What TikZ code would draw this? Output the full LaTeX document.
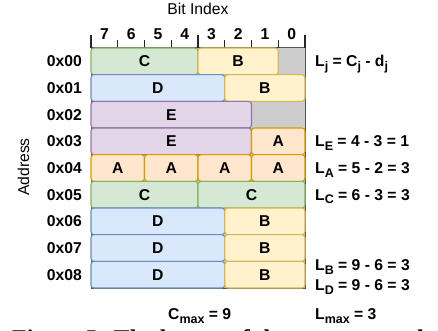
\documentclass[tikz,border=0pt]{standalone}
\usepackage{fontspec}
\setmainfont{Liberation Sans}
\newfontfamily\capfont{Liberation Serif}
\definecolor{gfill}{HTML}{D5E8D4}\definecolor{gline}{HTML}{82B366}
\definecolor{yfill}{HTML}{FFF2CC}\definecolor{yline}{HTML}{D6B656}
\definecolor{bfill}{HTML}{DAE8FC}\definecolor{bline}{HTML}{6C8EBF}
\definecolor{pfill}{HTML}{E1D5E7}\definecolor{pline}{HTML}{9673A6}
\definecolor{ofill}{HTML}{FFE6CC}\definecolor{oline}{HTML}{D79B00}
\definecolor{memfill}{HTML}{CCCCCC}\definecolor{memline}{HTML}{555555}
\newcommand\fsz{\fontsize{15.7}{18}\selectfont}
\newcommand\sbs[1]{\raisebox{-3.6pt}{\fontsize{12.5}{13}\selectfont #1}}
\newcommand\memblk[6]{%
  \pgfmathsetmacro\mw{(#4-#3)*26.75}%
  \node[blk,#2,minimum width=\mw pt] (#1) at ({91+26.75*(#3+#4)/2},{48+26.667*(#5+0.5)}) {#6};}
\tikzset{
  blk/.style={draw, line width=1.1pt, rounded corners=3pt, inner sep=0pt,
    minimum height=26.667pt, font=\bfseries\fsz},
  grn/.style={fill=gfill, draw=gline},
  yel/.style={fill=yfill, draw=yline},
  blu/.style={fill=bfill, draw=bline},
  pur/.style={fill=pfill, draw=pline},
  org/.style={fill=ofill, draw=oline},
  lbl/.style={font=\bfseries\fsz, inner sep=0pt},
  tick/.style={line width=1.1pt, draw=black!85},
}
\begin{document}
\begin{tikzpicture}[x=1pt,y=-1pt]
\useasboundingbox (0,0) rectangle (438,331);
% memory background
\node[draw=memline, fill=memfill, line width=1pt, inner sep=0pt,
  minimum width=214pt, minimum height=240pt] (mem) at (198,168) {};
% ruler ticks
\foreach \c in {0,...,8}{
  \pgfmathsetmacro\tx{91+26.75*\c}
  \ifnum\c=0 \draw[tick] (\tx,35) -- (\tx,48);
  \else\ifnum\c=4 \draw[tick] (\tx,35) -- (\tx,48);
  \else\ifnum\c=8 \draw[tick] (\tx,35) -- (\tx,48);
  \else \draw[tick] (\tx,40) -- (\tx,48);
  \fi\fi\fi
}
\foreach \i in {0,...,7}
  \node[lbl] (bit\i) at ({91+26.75*(7-\i+0.5)},34) {\i};
\node[font=\fsz, inner sep=0pt] (bitidx) at (198,8.5) {Bit Index};
\node[font=\fsz, inner sep=0pt, rotate=90] (addr) at (23.5,167) {Address};
% address labels
\foreach \r in {0,...,8}
  \node[lbl, anchor=east] (a\r) at (82,{48+26.667*(\r+0.5)}) {0x0\r};
% blocks
\memblk{c0}{grn}{0}{4}{0}{C}
\memblk{b0}{yel}{4}{7}{0}{B}
\memblk{d1}{blu}{0}{5}{1}{D}
\memblk{b1}{yel}{5}{8}{1}{B}
\memblk{e2}{pur}{0}{6}{2}{E}
\memblk{e3}{pur}{0}{6}{3}{E}
\memblk{a3}{org}{6}{8}{3}{A}
\memblk{a4a}{org}{0}{2}{4}{A}
\memblk{a4b}{org}{2}{4}{4}{A}
\memblk{a4c}{org}{4}{6}{4}{A}
\memblk{a4d}{org}{6}{8}{4}{A}
\memblk{c5a}{grn}{0}{4}{5}{C}
\memblk{c5b}{grn}{4}{8}{5}{C}
\memblk{d6}{blu}{0}{5}{6}{D}
\memblk{b6}{yel}{5}{8}{6}{B}
\memblk{d7}{blu}{0}{5}{7}{D}
\memblk{b7}{yel}{5}{8}{7}{B}
\memblk{d8}{blu}{0}{5}{8}{D}
\memblk{b8}{yel}{5}{8}{8}{B}
% formulas
\node[lbl, anchor=base west] (lj) at (315,66.9) {L\sbs{j} = C\sbs{j} - d\sbs{j}};
\node[lbl, anchor=base west] (le) at (315,146.9) {L\sbs{E} = 4 - 3 = 1};
\node[lbl, anchor=base west] (la) at (315,173.6) {L\sbs{A} = 5 - 2 = 3};
\node[lbl, anchor=base west] (lc) at (315,200.3) {L\sbs{C} = 6 - 3 = 3};
\node[lbl, anchor=base west] (lb) at (315,270.6) {L\sbs{B} = 9 - 6 = 3};
\node[lbl, anchor=base west] (ld) at (315,290.6) {L\sbs{D} = 9 - 6 = 3};
\node[lbl, anchor=base west] (cmax) at (168,319.6) {C\sbs{max} = 9};
\node[lbl, anchor=base west] (lmax) at (315,319.6) {L\sbs{max} = 3};
% clipped caption
\begin{scope}
\clip (0,0) rectangle (438,331);
\node[inner sep=0pt, anchor=base west, font=\capfont\bfseries\fontsize{24}{28}\selectfont] (cap) at (12,346) {\smash{Figure 5: The layout of the memory and}};
\end{scope}
\end{tikzpicture}
\end{document}
